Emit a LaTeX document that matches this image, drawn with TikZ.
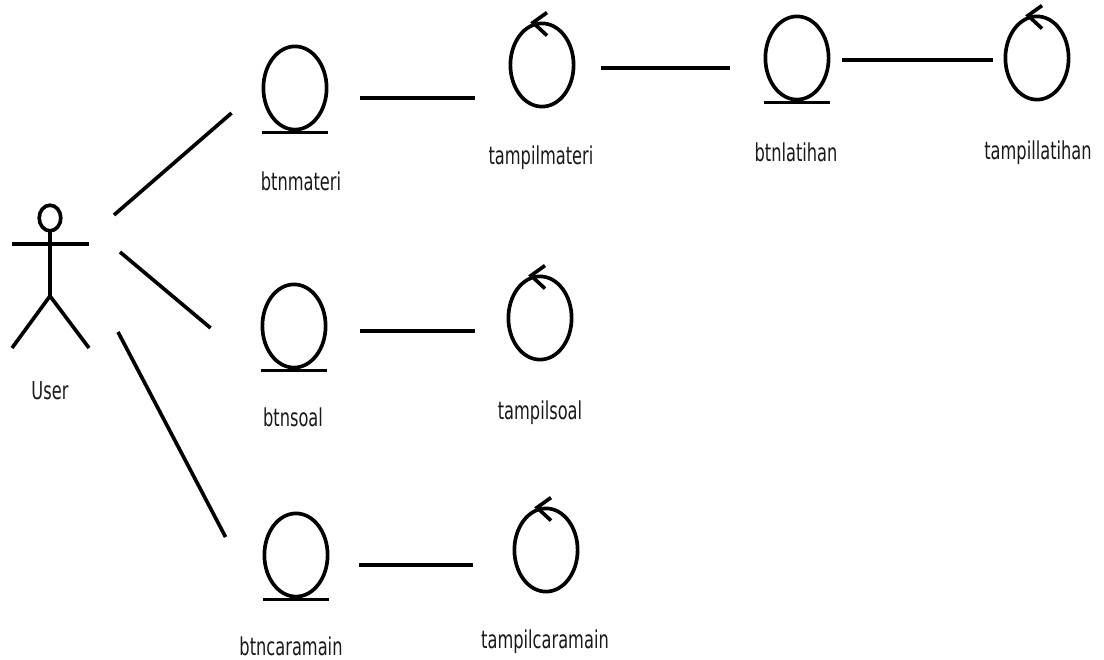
\documentclass[tikz,border=0pt]{standalone}
\usepackage{fontspec}
\setmainfont[FakeStretch=0.66]{DejaVu Sans}
\usetikzlibrary{shapes.geometric}
\tikzset{
  icon/.style={ellipse,draw,line width=2.6pt,minimum width=1.58cm,minimum height=2.08cm,inner sep=0pt},
  link/.style={line width=2.6pt},
  lbl/.style={anchor=base,font=\fontsize{17.5}{20}\selectfont,text=black!90}
}

\begin{document}
\begin{tikzpicture}[x=0.025cm,y=-0.025cm]

\useasboundingbox (0,0) rectangle (1104,659);

% actor
\coordinate (actor) at (50,244);
\draw[link] (50,218) ellipse [x radius=0.27cm,y radius=0.32cm];
\draw[link] (50,231) -- (50,296);
\draw[link] (12,244) -- (89,244);
\draw[link] (12,348) -- (50,296) -- (89,348);
\node[lbl] (user) at (50,399) {User};

% boundary / control icons
\node[icon] (btnmateri) at (295,88) {};
\node[icon] (tampilmateri) at (542,65) {};
\node[icon] (btnlatihan) at (797,58) {};
\node[icon] (tampillatihan) at (1037,58) {};
\node[icon] (btnsoal) at (294,326) {};
\node[icon] (tampilsoal) at (540,318) {};
\node[icon] (btncaramain) at (296,555) {};
\node[icon] (tampilcaramain) at (546,550) {};

\foreach \n in {btnmateri,btnlatihan,btnsoal,btncaramain}
  \draw[link] ([shift={(-33,1)}]\n.south) -- ([shift={(33,1)}]\n.south);

\foreach \n in {tampilmateri,tampillatihan,tampilsoal,tampilcaramain}
  \draw[link] ([shift={(5,-9)}]\n.north) -- ([shift={(-9,1)}]\n.north) -- ([shift={(5,14)}]\n.north);

% labels
\node[lbl] (lbtnmateri) at (301,190) {btnmateri};
\node[lbl] (ltampilmateri) at (541,164) {tampilmateri};
\node[lbl] (lbtnlatihan) at (796,161) {btnlatihan};
\node[lbl] (ltampillatihan) at (1038,159) {tampillatihan};
\node[lbl] (lbtnsoal) at (293,426) {btnsoal};
\node[lbl] (ltampilsoal) at (540,419) {tampilsoal};
\node[lbl] (lbtncaramain) at (291,655) {btncaramain};
\node[lbl] (ltampilcaramain) at (545,648) {tampilcaramain};

% connectors
\draw[link] ([shift={(64,-29)}]actor) -- ([shift={(-30,25)}]btnmateri.west);
\draw[link] ([shift={(70,8)}]actor) -- ([shift={(-50,2)}]btnsoal.west);
\draw[link] ([shift={(68,88)}]actor) -- ([shift={(-37,-18)}]btncaramain.west);

\draw[link] ([shift={(32,10)}]btnmateri.east) -- ([shift={(-34,33)}]tampilmateri.west);
\draw[link] ([shift={(26,3)}]tampilmateri.east) -- ([shift={(-34,10)}]btnlatihan.west);
\draw[link] ([shift={(12,2)}]btnlatihan.east) -- ([shift={(-11,2)}]tampillatihan.west);
\draw[link] ([shift={(33,5)}]btnsoal.east) -- ([shift={(-32,13)}]tampilsoal.west);
\draw[link] ([shift={(30,10)}]btncaramain.east) -- ([shift={(-40,15)}]tampilcaramain.west);

\end{tikzpicture}
\end{document}
